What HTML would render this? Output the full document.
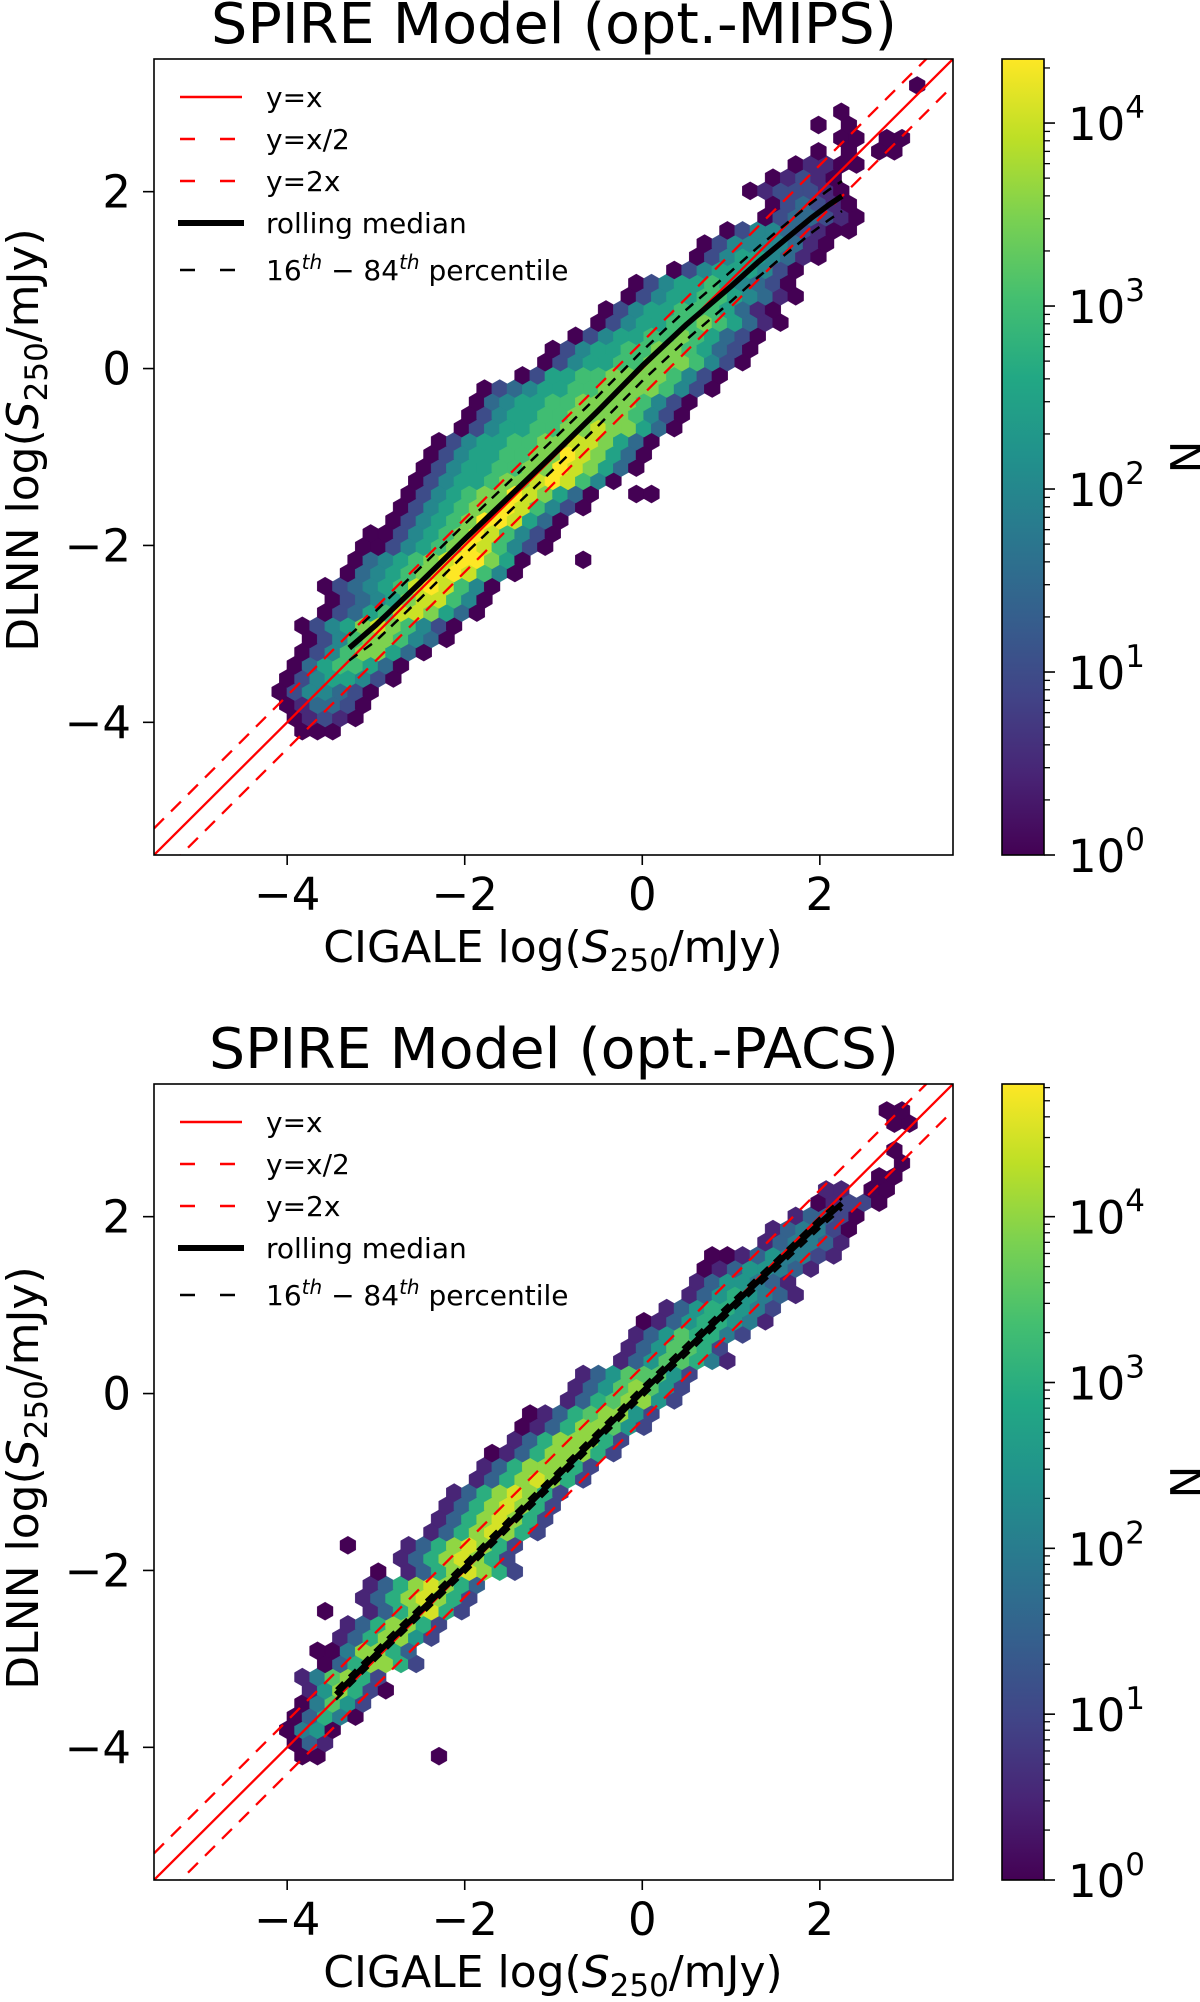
<!DOCTYPE html>
<html><head><meta charset="utf-8">
<style>
html,body{margin:0;padding:0;background:#fff;}
svg{display:block;font-family:"DejaVu Sans","Liberation Sans",sans-serif;}
</style></head>
<body>
<svg id="fig" width="1200" height="2002" viewBox="0 0 1200 2002" xmlns="http://www.w3.org/2000/svg">
<defs>
  <clipPath id="clip1"><rect x="154" y="59" width="799" height="796"/></clipPath>
  <clipPath id="clip2"><rect x="154" y="1084" width="799" height="796"/></clipPath>
  <linearGradient id="vir" x1="0" y1="1" x2="0" y2="0">
    <stop offset="0" stop-color="#440154"/><stop offset="0.1" stop-color="#482475"/>
    <stop offset="0.2" stop-color="#414487"/><stop offset="0.3" stop-color="#355f8d"/>
    <stop offset="0.4" stop-color="#2a788e"/><stop offset="0.5" stop-color="#21918c"/>
    <stop offset="0.6" stop-color="#22a884"/><stop offset="0.7" stop-color="#44bf70"/>
    <stop offset="0.8" stop-color="#7ad151"/><stop offset="0.9" stop-color="#bddf26"/>
    <stop offset="1" stop-color="#fde725"/>
  </linearGradient>
</defs>

<!-- Panel 1 -->
<text x="554" y="43" font-size="56" text-anchor="middle" textLength="686" lengthAdjust="spacingAndGlyphs">SPIRE Model (opt.-MIPS)</text>
<g id="hex1" clip-path="url(#clip1)"></g>
<g id="lines1" clip-path="url(#clip1)"></g>
<rect x="154" y="59" width="799" height="796" fill="none" stroke="#000" stroke-width="1.6"/>
<g id="ticks1" font-size="45"></g>
<text x="553" y="962" font-size="44" text-anchor="middle">CIGALE log(<tspan font-style="italic">S</tspan><tspan font-size="31" dy="9">250</tspan><tspan dy="-9">/mJy)</tspan></text>
<text transform="translate(38,440) rotate(-90)" font-size="44" text-anchor="middle">DLNN log(<tspan font-style="italic">S</tspan><tspan font-size="31" dy="9">250</tspan><tspan dy="-9">/mJy)</tspan></text>
<g font-size="28">
  <line x1="180" y1="97" x2="242" y2="97" stroke="#ff0000" stroke-width="2.5"/>
  <text x="266" y="107">y=x</text>
  <line x1="180" y1="139" x2="242" y2="139" stroke="#ff0000" stroke-width="2.5" stroke-dasharray="15 25"/>
  <text x="266" y="149">y=x/2</text>
  <line x1="180" y1="181" x2="242" y2="181" stroke="#ff0000" stroke-width="2.5" stroke-dasharray="15 25"/>
  <text x="266" y="191">y=2x</text>
  <line x1="178" y1="223" x2="244" y2="223" stroke="#000" stroke-width="6"/>
  <text x="266" y="233">rolling median</text>
  <line x1="180" y1="270" x2="242" y2="270" stroke="#000" stroke-width="2.5" stroke-dasharray="15 25"/>
  <text x="266" y="280">16<tspan font-style="italic" font-size="20" dy="-11">th</tspan><tspan dy="11"> − 84</tspan><tspan font-style="italic" font-size="20" dy="-11">th</tspan><tspan dy="11"> percentile</tspan></text>
</g>
<rect x="1002" y="59" width="42" height="796" fill="url(#vir)" stroke="#000" stroke-width="1.6"/>
<g id="cb1"></g>
<text transform="translate(1202,457) rotate(-90)" font-size="44" text-anchor="middle">N</text>

<!-- Panel 2 -->
<text x="554" y="1068" font-size="56" text-anchor="middle" textLength="690" lengthAdjust="spacingAndGlyphs">SPIRE Model (opt.-PACS)</text>
<g id="hex2" clip-path="url(#clip2)"></g>
<g id="lines2" clip-path="url(#clip2)"></g>
<rect x="154" y="1084" width="799" height="796" fill="none" stroke="#000" stroke-width="1.6"/>
<g id="ticks2" font-size="45"></g>
<text x="553" y="1987" font-size="44" text-anchor="middle">CIGALE log(<tspan font-style="italic">S</tspan><tspan font-size="31" dy="9">250</tspan><tspan dy="-9">/mJy)</tspan></text>
<text transform="translate(38,1478) rotate(-90)" font-size="44" text-anchor="middle">DLNN log(<tspan font-style="italic">S</tspan><tspan font-size="31" dy="9">250</tspan><tspan dy="-9">/mJy)</tspan></text>
<g font-size="28" transform="translate(0,1025)">
  <line x1="180" y1="97" x2="242" y2="97" stroke="#ff0000" stroke-width="2.5"/>
  <text x="266" y="107">y=x</text>
  <line x1="180" y1="139" x2="242" y2="139" stroke="#ff0000" stroke-width="2.5" stroke-dasharray="15 25"/>
  <text x="266" y="149">y=x/2</text>
  <line x1="180" y1="181" x2="242" y2="181" stroke="#ff0000" stroke-width="2.5" stroke-dasharray="15 25"/>
  <text x="266" y="191">y=2x</text>
  <line x1="178" y1="223" x2="244" y2="223" stroke="#000" stroke-width="6"/>
  <text x="266" y="233">rolling median</text>
  <line x1="180" y1="270" x2="242" y2="270" stroke="#000" stroke-width="2.5" stroke-dasharray="15 25"/>
  <text x="266" y="280">16<tspan font-style="italic" font-size="20" dy="-11">th</tspan><tspan dy="11"> − 84</tspan><tspan font-style="italic" font-size="20" dy="-11">th</tspan><tspan dy="11"> percentile</tspan></text>
</g>
<rect x="1002" y="1084" width="42" height="796" fill="url(#vir)" stroke="#000" stroke-width="1.6"/>
<g id="cb2"></g>
<text transform="translate(1202,1482) rotate(-90)" font-size="44" text-anchor="middle">N</text>
</svg>

<script>
// ---- shared tick data ----
const xTicks = [-4, -2, 0, 2];
const xTickLabels = ["−4", "−2", "0", "2"];
const yTicks = [-4, -2, 0, 2];
const yTickLabels = ["−4", "−2", "0", "2"];
const cbDecades = [0, 1, 2, 3, 4];
const cbDecadeLabels = ["0", "1", "2", "3", "4"];

// axis limits (data units)
const xLim = [-5.5, 3.5];
const yLim = [-5.5, 3.5];

// hexbin lattice (data units)
const hexX0 = -4.0, hexDX = 0.171, hexY0 = -4.1, hexDY = 0.149;

// ---- panel 1 (opt.-MIPS) ----
const cbMax1 = 4.35;
const rowStart1 = [-3.85,-3.95,-4.0,-4.05,-4.0,-3.95,-3.85,-3.8,-3.75,-3.65,-3.55,-3.5,-3.28,-3.18,
-3.08,-3.03,-2.76,-2.66,-2.61,-2.56,-2.46,-2.31,-2.21,-2.11,-1.91,-1.81,-1.76,-1.31,-1.16,-0.96,
-0.81,-0.56,-0.41,-0.16,-0.01,0.34,0.54,0.69,1.04,1.34,1.44,1.3,1.5,1.7,1.9,2.2,2.05,2.2,3.0,3.03];
const rowLevels1 = ["000","01210","013320","0244320","02455420","03566530","024677530","0246776430","02457876420","02356887530",
"02345788640","023456898640","034567898640","034567899750...0",
"0024567986420","0024567986420","024567998530","0245677986420","0245677987530..00","02455677898640",
"024556677987530","024556677987530","024556677887530","024556677877530","024556677776420","034556677776420","0234556677776420","02556677776420","02455667776420","02455667765320",
"0245566765320","0245566765310","024556665310","024556654310","02455654320","024555420","024554310","024444310","024432100","0233210",
"023210","0122210","01210","01100","0.0.00","00.00","0.0","0","","0"];
const medX1 = [-3.3,-3.0,-2.5,-2.0,-1.5,-1.0,-0.5,0.0,0.5,1.0,1.3,1.6,1.9,2.1,2.25];
const medY1 = [-3.16,-2.9,-2.42,-1.93,-1.45,-0.97,-0.48,0.03,0.5,0.93,1.2,1.45,1.7,1.85,1.95];
const p16Y1 = [-3.3,-3.08,-2.6,-2.1,-1.62,-1.14,-0.65,-0.14,0.33,0.76,1.03,1.28,1.53,1.68,1.78];
const p84Y1 = [-3.02,-2.74,-2.25,-1.76,-1.28,-0.8,-0.31,0.2,0.67,1.1,1.37,1.62,1.87,2.02,2.12];

// ---- panel 2 (opt.-PACS) ----
const cbMax2 = 4.8;
const rowStart2 = [-3.85,-3.95,-4.0,-4.0,-3.85,-3.8,-3.75,-3.65,-3.65,-3.4,-3.3,-3.6,-3.15,-3.0,-3.05,-2.75,-3.32,-2.45,-2.35,-2.2,-2.05,-1.9,-1.75,-1.7,-1.5,-1.35,-1.2,-0.9,-0.8,-0.6,-0.3,-0.15,0.0,0.1,0.3,0.55,0.65,0.75,0.8,1.35,1.5,1.7,1.9,2.15,2.6,2.85,2.85,2.9,2.85,2.8];
const rowLevels2 = ["00.......0","031","0450","03640","04752","158620","147862","0368862","0048863","1368852",
"1368862","0..1368962","13689862","13689863","0.13689862","13689862","0...13689862","13689862","13689862","13689862",
"13689862","13689862","13688862","013688862","13688862","013688752","013678852","13678852","13578752","13577752",
"13577641","1357762","13576642","013566541","13566542","13565431","1355431","01355431","001354421","134431",
"134420","13320","01220","11.00","00","0","0","","00","00"];
const medX2 = [-3.45,-3.0,-2.5,-2.0,-1.5,-1.0,-0.5,0.0,0.5,1.0,1.5,2.0,2.25];
const medY2 = [-3.4,-2.95,-2.46,-1.97,-1.47,-0.98,-0.48,0.02,0.5,0.98,1.45,1.93,2.15];
const p16Y2 = [-3.46,-3.01,-2.52,-2.03,-1.53,-1.04,-0.54,-0.04,0.44,0.92,1.39,1.87,2.09];
const p84Y2 = [-3.34,-2.89,-2.4,-1.91,-1.41,-0.92,-0.42,0.08,0.56,1.04,1.51,1.99,2.21];

// ---- rendering ----
const NS = "http://www.w3.org/2000/svg";
const AX_L = 154, AX_W = 799, AX_H = 796;
function xs(X){ return AX_L + (X - xLim[0]) / (xLim[1] - xLim[0]) * AX_W; }
function ys(Y, top){ return top + (yLim[1] - Y) / (yLim[1] - yLim[0]) * AX_H; }

const virStops = ["#440154","#482475","#414487","#355f8d","#2a788e","#21918c","#22a884","#44bf70","#7ad151","#bddf26","#fde725"];
function hex2rgb(h){ return [parseInt(h.substr(1,2),16),parseInt(h.substr(3,2),16),parseInt(h.substr(5,2),16)]; }
function viridis(t){
  t = Math.max(0, Math.min(1, t));
  const f = t * 10, i = Math.min(9, Math.floor(f)), u = f - i;
  const a = hex2rgb(virStops[i]), b = hex2rgb(virStops[i+1]);
  return "rgb(" + [0,1,2].map(k => Math.round(a[k] + (b[k]-a[k])*u)).join(",") + ")";
}
function mk(tag, attrs, parent){
  const el = document.createElementNS(NS, tag);
  for (const k in attrs) el.setAttribute(k, attrs[k]);
  parent.appendChild(el);
  return el;
}

function drawHexbin(gid, starts, levels, cbMax, top){
  const g = document.getElementById(gid);
  const pxPerX = AX_W / (xLim[1]-xLim[0]);
  const pxPerY = AX_H / (yLim[1]-yLim[0]);
  const hw = hexDX * pxPerX / 2 + 0.3;
  const R = hexDY * pxPerY / 1.5 + 0.3;
  for (let j = 0; j < levels.length; j++){
    const Y = hexY0 + j * hexDY;
    const off = (j % 2) ? hexDX / 2 : 0;
    const c0 = Math.round((starts[j] - hexX0 - off) / hexDX);
    const s = levels[j];
    for (let k = 0; k < s.length; k++){
      const ch = s[k];
      if (ch === ".") continue;
      const X = hexX0 + off + (c0 + k) * hexDX;
      const lv = Math.min(parseInt(ch, 10) * 0.5, cbMax);
      const cx = xs(X), cy = ys(Y, top);
      const pts = [[cx,cy-R],[cx+hw,cy-R/2],[cx+hw,cy+R/2],[cx,cy+R],[cx-hw,cy+R/2],[cx-hw,cy-R/2]]
        .map(p => p[0].toFixed(1)+","+p[1].toFixed(1)).join(" ");
      const col = viridis(lv / cbMax);
      const poly = mk("polygon", {points: pts, fill: col, stroke: col, "stroke-width": "0.4"}, g);
      
      
    }
  }
}

function drawLines(gid, mx, my, p16, p84, top){
  const g = document.getElementById(gid);
  const offs = [0, -Math.log10(2), Math.log10(2)];
  offs.forEach((o, i) => {
    const ln = mk("line", {x1: xs(xLim[0]), y1: ys(xLim[0] + o, top), x2: xs(xLim[1]), y2: ys(xLim[1] + o, top),
      stroke: "#ff0000", "stroke-width": "2.3", "stroke-dasharray": i === 0 ? "none" : "14 10"}, g);
    
    
  });
  const path = (ys_) => mx.map((x, i) => (i ? "L" : "M") + xs(x).toFixed(1) + "," + ys(ys_[i], top).toFixed(1)).join(" ");
  const a = mk("path", {d: path(p16), fill: "none", stroke: "#000", "stroke-width": "2.5", "stroke-dasharray": "10 8"}, g);
  
  
  const b = mk("path", {d: path(p84), fill: "none", stroke: "#000", "stroke-width": "2.5", "stroke-dasharray": "10 8"}, g);
  
  
  const m = mk("path", {d: path(my), fill: "none", stroke: "#000", "stroke-width": "5.5", "stroke-linejoin": "round"}, g);
  
  
}

function drawTicks(gid, top){
  const g = document.getElementById(gid);
  const bot = top + AX_H;
  xTicks.forEach((v, i) => {
    const t = mk("line", {x1: xs(v), y1: bot, x2: xs(v), y2: bot + 10, stroke: "#000", "stroke-width": "1.6"}, g);
    
    
    const lb = mk("text", {x: xs(v), y: bot + 55, "text-anchor": "middle"}, g);
    lb.textContent = xTickLabels[i];
    
    
  });
  yTicks.forEach((v, i) => {
    const t = mk("line", {x1: AX_L - 11, y1: ys(v, top), x2: AX_L, y2: ys(v, top), stroke: "#000", "stroke-width": "1.6"}, g);
    
    
    const lb = mk("text", {x: 131, y: ys(v, top) + 16, "text-anchor": "end"}, g);
    lb.textContent = yTickLabels[i];
    
    
  });
}

function drawColorbar(gid, cbMax, top){
  const g = document.getElementById(gid);
  const bot = top + AX_H;
  const cy = (lv) => bot - lv / cbMax * AX_H;
  const x = 1044;
  cbDecades.forEach((d, i) => {
    if (d > cbMax) return;
    const t = mk("line", {x1: x, y1: cy(d), x2: x + 11, y2: cy(d), stroke: "#000", "stroke-width": "1.6"}, g);
    
    
    const lb = mk("text", {x: 1068, y: cy(d) + 17, "font-size": "45"}, g);
    
    
    lb.textContent = "10";
    const sup = mk("tspan", {"font-size": "31", dy: "-22"}, lb);
    sup.textContent = cbDecadeLabels[i];
    for (let m = 2; m <= 9; m++){
      const lv = d + Math.log10(m);
      if (lv > cbMax) break;
      const mt = mk("line", {x1: x, y1: cy(lv), x2: x + 6, y2: cy(lv), stroke: "#000", "stroke-width": "1.3"}, g);
      
      
    }
  });
}

drawHexbin("hex1", rowStart1, rowLevels1, cbMax1, 59);
drawLines("lines1", medX1, medY1, p16Y1, p84Y1, 59);
drawTicks("ticks1", 59);
drawColorbar("cb1", cbMax1, 59);

drawHexbin("hex2", rowStart2, rowLevels2, cbMax2, 1084);
drawLines("lines2", medX2, medY2, p16Y2, p84Y2, 1084);
drawTicks("ticks2", 1084);
drawColorbar("cb2", cbMax2, 1084);
</script>
</body></html>
